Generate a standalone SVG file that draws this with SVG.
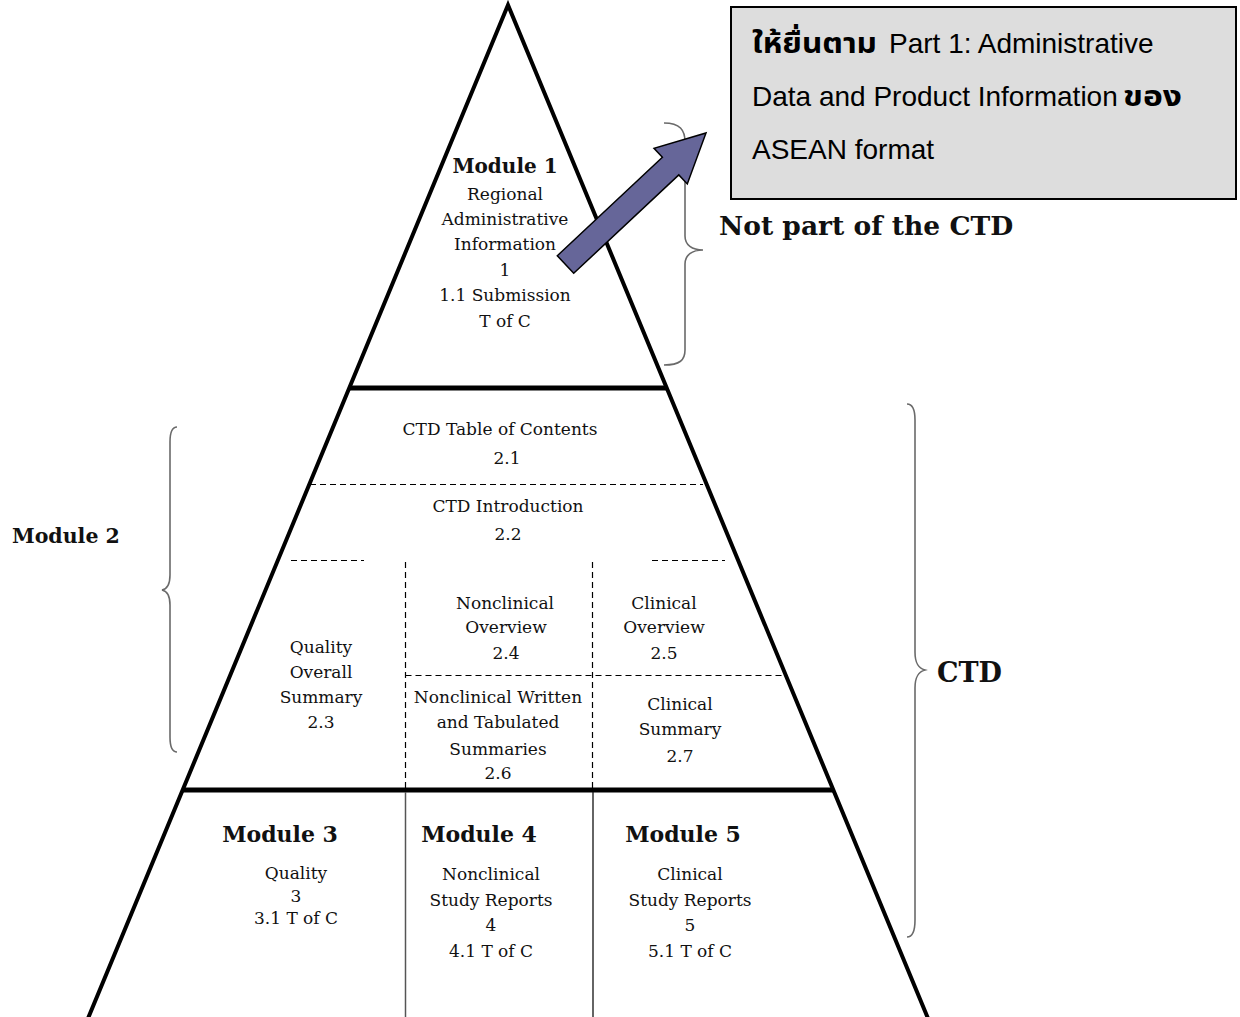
<svg xmlns="http://www.w3.org/2000/svg" width="1240" height="1017" viewBox="0 0 1240 1017">
<style>
.t{font-family:"DejaVu Serif","Liberation Serif",serif;font-size:17px;fill:#111;text-anchor:middle}
.mb{font-family:"DejaVu Serif","Liberation Serif",serif;font-weight:bold;fill:#111;text-anchor:middle}
.lb{font-family:"DejaVu Serif","Liberation Serif",serif;font-weight:bold;fill:#111}
.bx{font-family:"Liberation Sans","Noto Sans","Noto Sans Thai","DejaVu Sans",sans-serif;font-size:28px;fill:#000}
.th{font-weight:bold}
.dash{stroke:#000;stroke-width:1.2;stroke-dasharray:6 4;fill:none}
.brace{stroke:#6a6a6a;stroke-width:1.6;fill:none}
</style>
<rect width="1240" height="1017" fill="#fff"/>

<g id="pyramid">
  <path d="M86.5,1022 L508,5 L929.5,1022" fill="none" stroke="#000" stroke-width="4" stroke-linejoin="miter"/>
  <line x1="349" y1="388" x2="667" y2="388" stroke="#000" stroke-width="5"/>
  <line x1="182" y1="790" x2="834" y2="790" stroke="#000" stroke-width="5"/>
  <line class="dash" x1="310" y1="484.5" x2="703" y2="484.5"/>
  <line class="dash" x1="291" y1="560.5" x2="364" y2="560.5"/>
  <line class="dash" x1="652" y1="560.5" x2="725" y2="560.5"/>
  <line class="dash" x1="405.5" y1="675.5" x2="783" y2="675.5"/>
  <line class="dash" x1="405.5" y1="562" x2="405.5" y2="788"/>
  <line class="dash" x1="592.5" y1="562" x2="592.5" y2="788"/>
  <line x1="405.5" y1="792" x2="405.5" y2="1017" stroke="#555" stroke-width="1.5"/>
  <line x1="593" y1="792" x2="593" y2="1017" stroke="#111" stroke-width="1.3"/>
</g>

<g id="module1">
  <text class="mb" x="505" y="173" font-size="20">Module 1</text>
  <text class="t" x="505" y="200">Regional</text>
  <text class="t" x="505" y="225">Administrative</text>
  <text class="t" x="505" y="250">Information</text>
  <text class="t" x="505" y="276">1</text>
  <text class="t" x="505" y="301">1.1 Submission</text>
  <text class="t" x="505" y="327">T of C</text>
</g>

<g id="ctd-toc">
  <text class="t" x="500" y="435">CTD Table of Contents</text>
  <text class="t" x="507" y="464">2.1</text>
</g>
<g id="ctd-intro">
  <text class="t" x="508" y="512">CTD Introduction</text>
  <text class="t" x="508" y="540">2.2</text>
</g>
<g id="qos">
  <text class="t" x="321" y="653">Quality</text>
  <text class="t" x="321" y="678">Overall</text>
  <text class="t" x="321" y="703">Summary</text>
  <text class="t" x="321" y="728">2.3</text>
</g>
<g id="nonclin-overview">
  <text class="t" x="505" y="609">Nonclinical</text>
  <text class="t" x="506" y="633">Overview</text>
  <text class="t" x="506" y="659">2.4</text>
</g>
<g id="clin-overview">
  <text class="t" x="664" y="609">Clinical</text>
  <text class="t" x="664" y="633">Overview</text>
  <text class="t" x="664" y="659">2.5</text>
</g>
<g id="nonclin-summaries">
  <text class="t" x="498" y="703">Nonclinical Written</text>
  <text class="t" x="498" y="728">and Tabulated</text>
  <text class="t" x="498" y="755">Summaries</text>
  <text class="t" x="498" y="779">2.6</text>
</g>
<g id="clin-summary">
  <text class="t" x="680" y="710">Clinical</text>
  <text class="t" x="680" y="735">Summary</text>
  <text class="t" x="680" y="762">2.7</text>
</g>

<g id="module3">
  <text class="mb" x="280" y="842" font-size="22">Module 3</text>
  <text class="t" x="296" y="879">Quality</text>
  <text class="t" x="296" y="902">3</text>
  <text class="t" x="296" y="924">3.1 T of C</text>
</g>
<g id="module4">
  <text class="mb" x="479" y="842" font-size="22">Module 4</text>
  <text class="t" x="491" y="880">Nonclinical</text>
  <text class="t" x="491" y="906">Study Reports</text>
  <text class="t" x="491" y="931">4</text>
  <text class="t" x="491" y="957">4.1 T of C</text>
</g>
<g id="module5">
  <text class="mb" x="683" y="842" font-size="22">Module 5</text>
  <text class="t" x="690" y="880">Clinical</text>
  <text class="t" x="690" y="906">Study Reports</text>
  <text class="t" x="690" y="931">5</text>
  <text class="t" x="690" y="957">5.1 T of C</text>
</g>

<g id="label-module2">
  <text class="lb" x="12" y="543" font-size="20.5">Module 2</text>
</g>
<g id="label-not-ctd">
  <text class="lb" x="719" y="235" font-size="26.5">Not part of the CTD</text>
</g>
<g id="label-ctd">
  <text class="lb" x="937" y="682" font-size="27">CTD</text>
</g>

<g id="note-box">
  <rect x="731" y="7" width="505" height="192" fill="#dddddd" stroke="#000" stroke-width="2"/>
  <text class="bx th" x="752" y="53" textLength="125" lengthAdjust="spacingAndGlyphs">ให้ยื่นตาม</text>
  <text class="bx" x="889" y="53">Part 1: Administrative</text>
  <text class="bx" x="752" y="106">Data and Product Information</text>
  <text class="bx th" x="1123" y="106" textLength="59" lengthAdjust="spacingAndGlyphs">ของ</text>
  <text class="bx" x="752" y="159">ASEAN format</text>
</g>

<g id="connectors">
  <path class="brace" d="M664,123 C680,123 685,130 685,142 L685,236 C685,245 692,250 703,250 C692,250 685,255 685,264 L685,350 C685,360 680,365 664,365"/>
  <path class="brace" d="M907,404 C913,404 915,410 915,420 L915,652 C915,663 918,668 925,670 C918,672 915,677 915,688 L915,920 C915,930 913,937 907,937"/>
  <path class="brace" d="M177,427 C172,427 170,433 170,442 L170,575 C170,584 167,589 162,590 C167,591 170,596 170,605 L170,737 C170,746 172,752 177,752"/>
  <polygon points="557.3,255.7 662.4,157.3 654,148.3 706,133 687.3,183.9 678.8,174.9 573.7,273.3" fill="#666699" stroke="#000" stroke-width="1.5" stroke-linejoin="miter"/>
</g>
</svg>
